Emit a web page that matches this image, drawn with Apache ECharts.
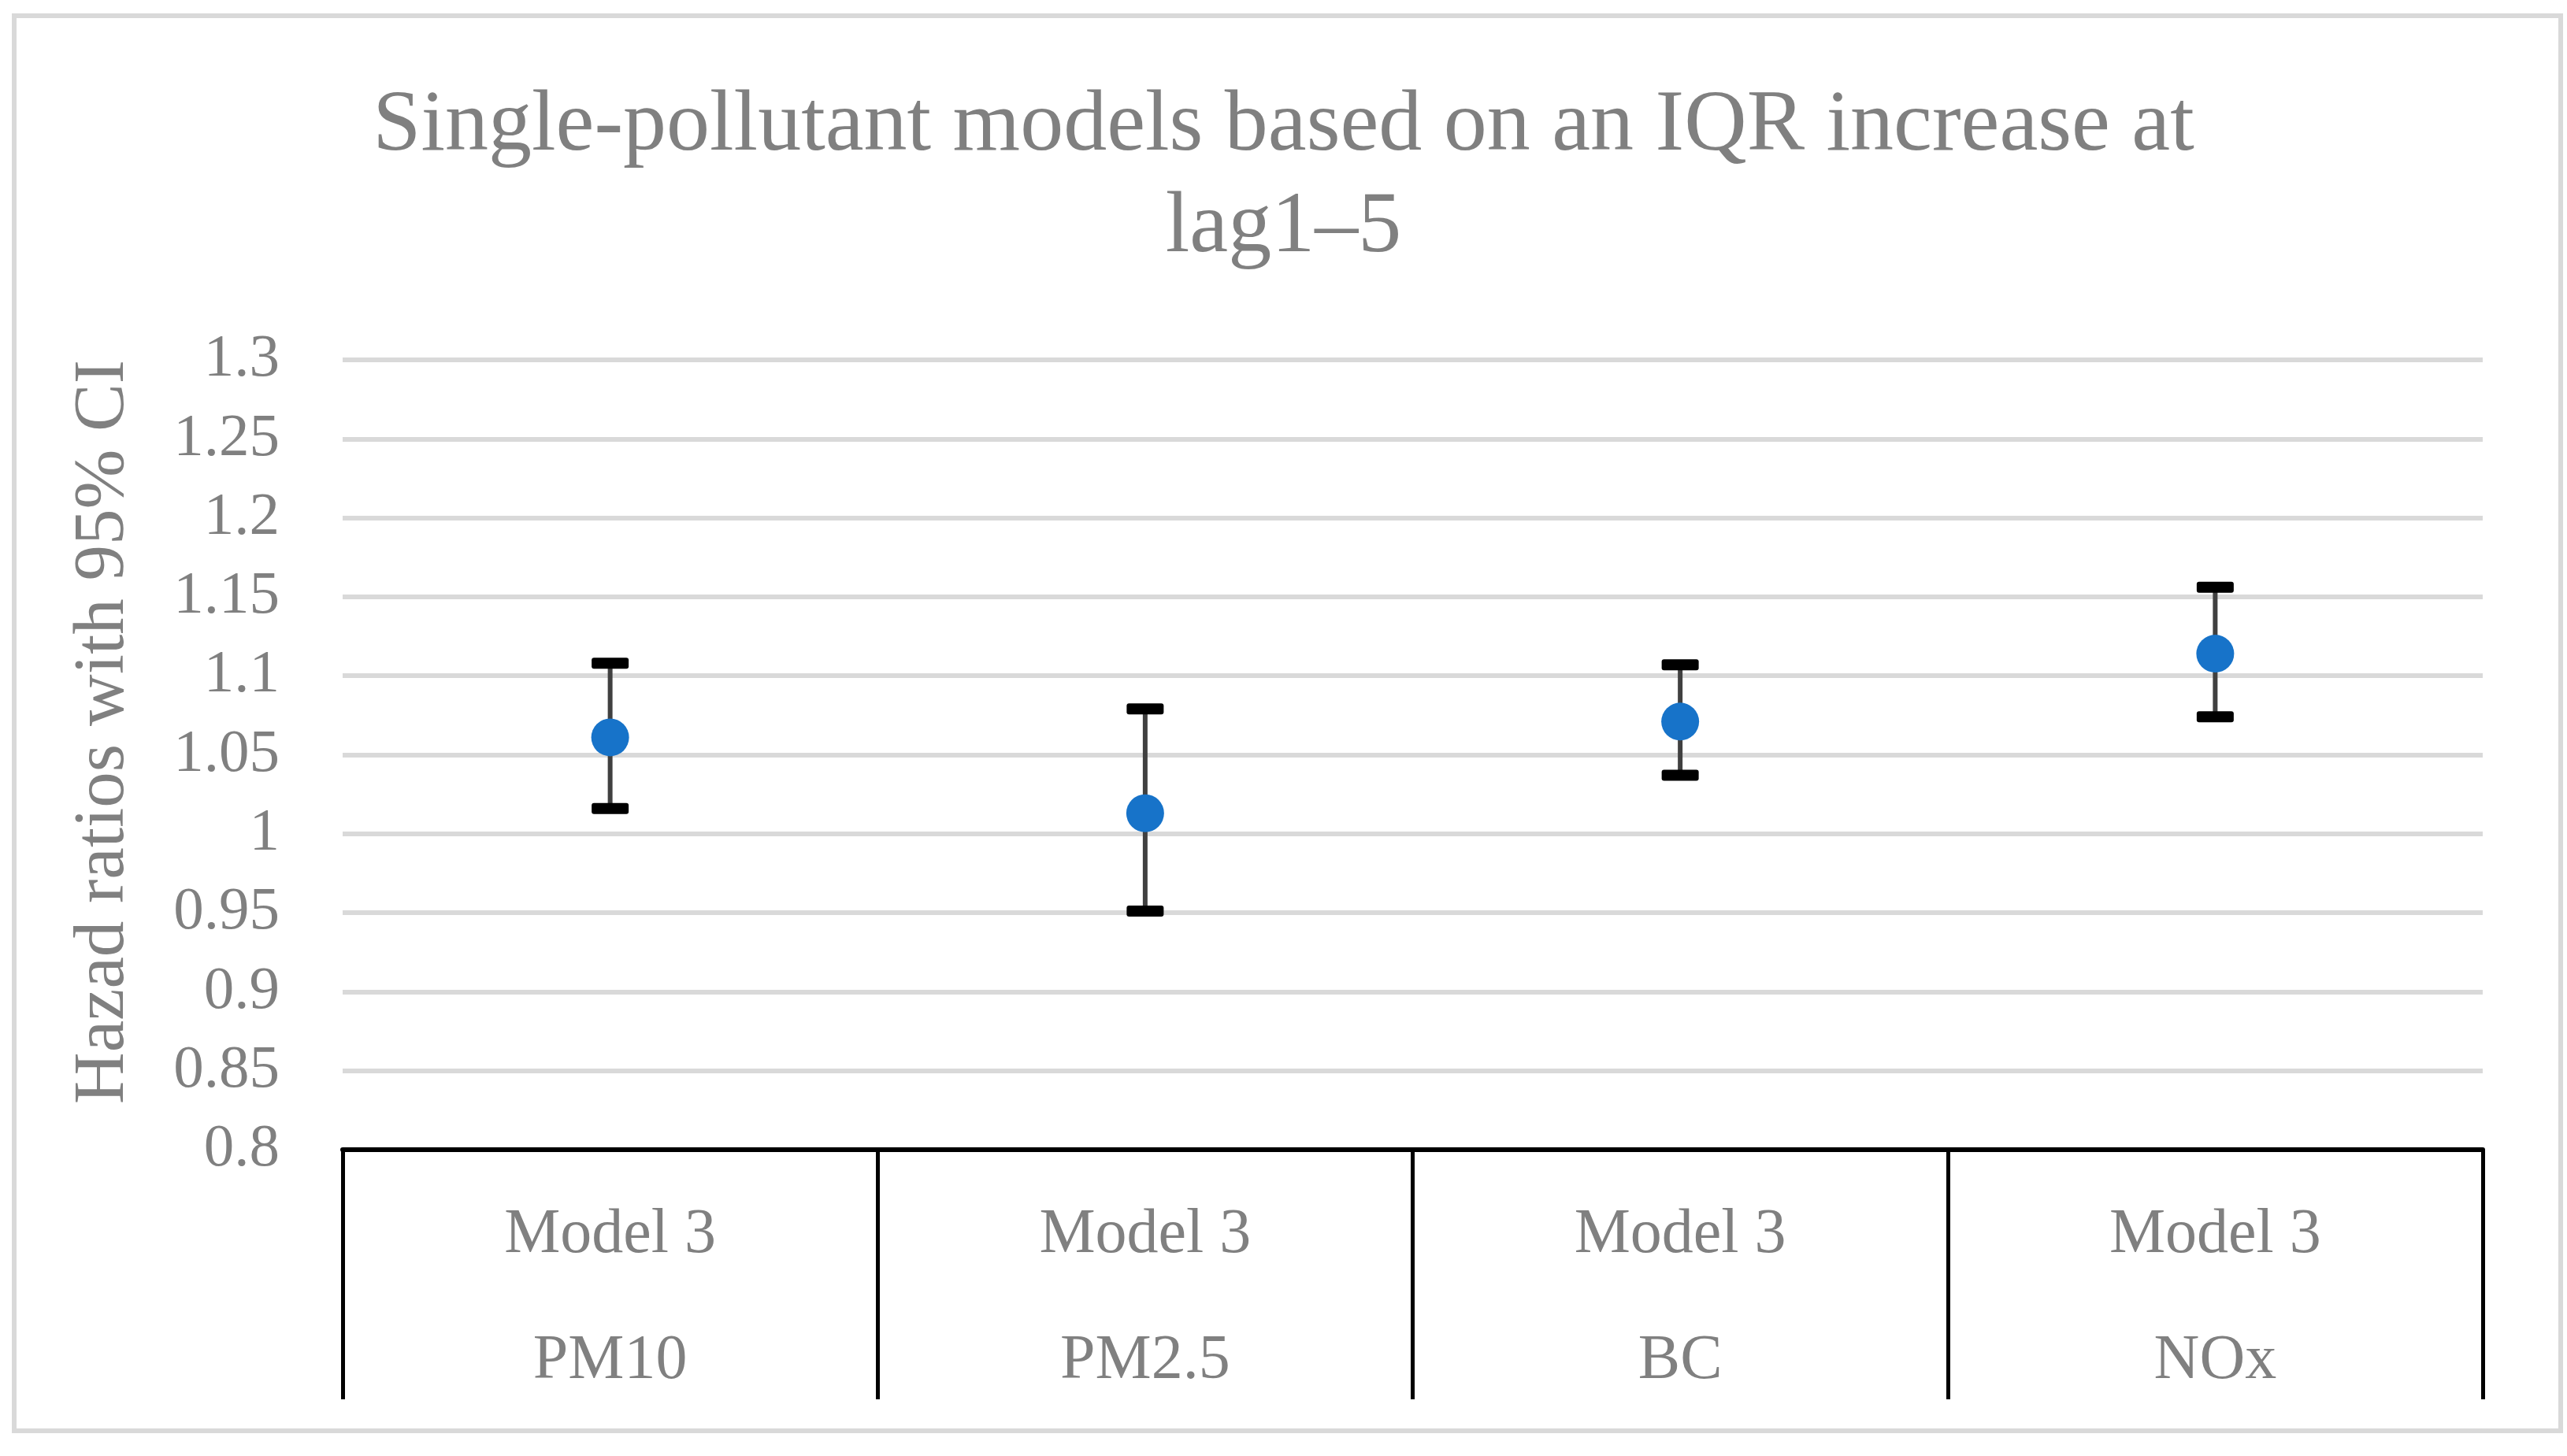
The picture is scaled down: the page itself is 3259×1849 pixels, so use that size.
<!DOCTYPE html>
<html>
<head>
<meta charset="utf-8">
<script src="https://cdn.jsdelivr.net/npm/echarts@6/dist/echarts.min.js"></script>
<style>
html,body{margin:0;padding:0;background:#fff;}
#chart{width:3259px;height:1849px;}
</style>
</head>
<body>
<div id="chart"></div>
<script>
var titleLines = ['Single-pollutant models based on an IQR increase at', 'lag1\u20135'];
var yAxisName = 'Hazad ratios with 95% CI';
var modelLabels = ['Model 3', 'Model 3', 'Model 3', 'Model 3'];
var pollutants = ['PM10', 'PM2.5', 'BC', 'NOx'];
var hazardRatios = [1.061, 1.013, 1.071, 1.114];
var ciLower = [1.016, 0.951, 1.037, 1.074];
var ciUpper = [1.108, 1.079, 1.107, 1.156];
var yMin = 0.8, yMax = 1.3, yStep = 0.05;

var categories = pollutants.map(function (p, i) { return modelLabels[i] + '\n' + p; });
var errData = pollutants.map(function (p, i) { return [i, ciLower[i], ciUpper[i]]; });

var FONT = '"Liberation Serif", "Times New Roman", serif';
var GRAY = '#808080';

var chart = echarts.init(document.getElementById('chart'), null, {renderer: 'canvas'});
chart.setOption({
  backgroundColor: '#ffffff',
  animation: false,
  title: {
    text: titleLines.join('\n'),
    left: 'center',
    top: 92,
    textStyle: {fontFamily: FONT, fontSize: 110, fontWeight: 'normal', color: GRAY, lineHeight: 129}
  },
  graphic: [{
    type: 'rect',
    shape: {x: 18, y: 20, width: 3233, height: 1797},
    style: {fill: 'none', stroke: '#d9d9d9', lineWidth: 6},
    silent: true,
    z: -10
  }],
  grid: {left: 435, right: 107, top: 457, bottom: 389, containLabel: false},
  xAxis: {
    type: 'category',
    data: categories,
    boundaryGap: true,
    axisLine: {show: true, lineStyle: {color: '#000000', width: 6}},
    axisTick: {show: true, interval: 0, length: 317, lineStyle: {color: '#000000', width: 5}},
    axisLabel: {interval: 0, margin: 29, fontFamily: FONT, fontSize: 80, color: GRAY, lineHeight: 160},
    splitLine: {show: false}
  },
  yAxis: {
    type: 'value',
    min: yMin,
    max: yMax,
    interval: yStep,
    name: yAxisName,
    nameLocation: 'middle',
    nameGap: 257,
    nameTextStyle: {fontFamily: FONT, fontSize: 91, color: GRAY, padding: [0, 0, 0, 58]},
    axisLine: {show: false},
    axisTick: {show: false},
    axisLabel: {
      margin: 80,
      fontFamily: FONT, fontSize: 77, color: GRAY,
      formatter: function (v) { return String(+v.toFixed(2)); }
    },
    splitLine: {show: true, lineStyle: {color: '#d9d9d9', width: 6}}
  },
  series: [{
    type: 'custom',
    data: errData,
    z: 2,
    renderItem: function (params, api) {
      var x = api.value(0);
      var lo = api.coord([x, api.value(1)]);
      var hi = api.coord([x, api.value(2)]);
      var capW = 47, capH = 14;
      return {
        type: 'group',
        children: [
          {type: 'line', shape: {x1: lo[0], y1: lo[1], x2: hi[0], y2: hi[1]},
           style: {stroke: '#404040', lineWidth: 6}},
          {type: 'rect', shape: {x: hi[0] - capW / 2, y: hi[1] - capH / 2, width: capW, height: capH, r: 3},
           style: {fill: '#000000'}},
          {type: 'rect', shape: {x: lo[0] - capW / 2, y: lo[1] - capH / 2, width: capW, height: capH, r: 3},
           style: {fill: '#000000'}}
        ]
      };
    }
  }, {
    type: 'scatter',
    data: hazardRatios,
    symbol: 'circle',
    symbolSize: 48,
    z: 3,
    itemStyle: {color: '#1773c9', opacity: 1}
  }]
});
</script>
</body>
</html>
